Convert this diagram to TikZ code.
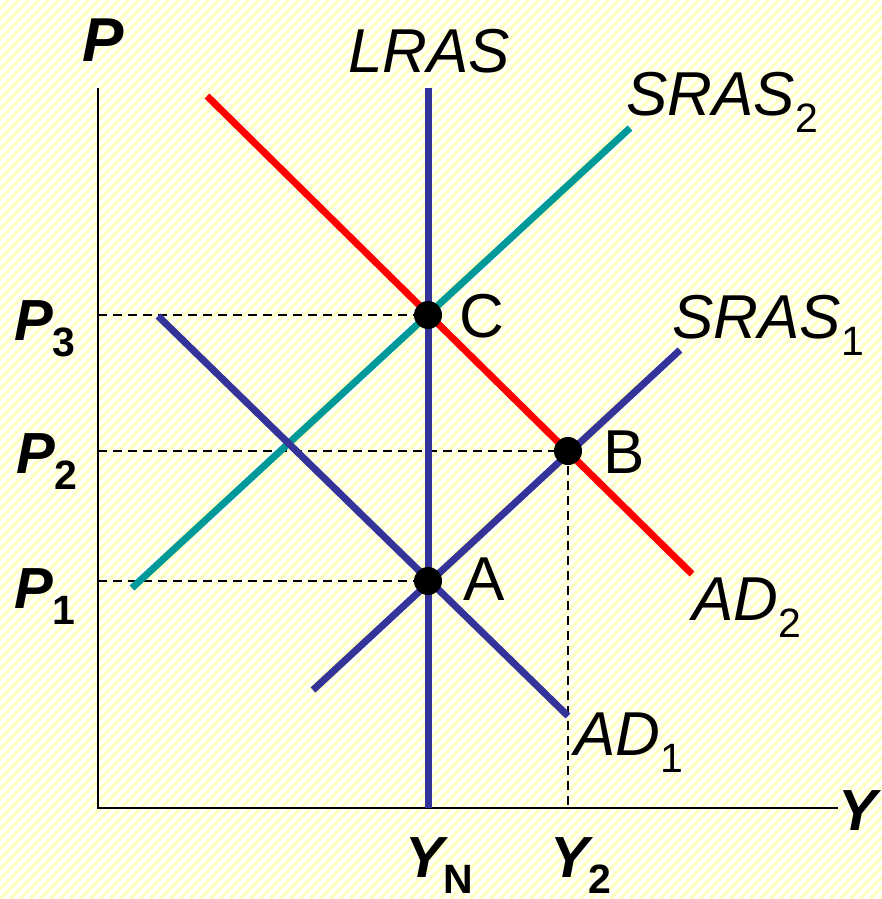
\documentclass[tikz,border=0pt]{standalone}
\usepackage{fontspec}
\setmainfont{Liberation Sans}
\newcommand{\lowsub}[1]{\raisebox{-0.29em}{\fontsize{41}{44}\selectfont #1}}
\definecolor{cblue}{HTML}{333399}
\definecolor{cteal}{HTML}{009999}
\definecolor{cred}{HTML}{FF0000}
\definecolor{stripe}{HTML}{FFFFC4}
\begin{document}
\begin{tikzpicture}[x=1pt,y=-1pt,
  curve/.style={line width=7pt},
  axisline/.style={line width=2pt,black},
  guide/.style={line width=1.4pt,black,dash pattern=on 9pt off 6pt},
  dot/.style={circle,fill=black,inner sep=0pt,minimum size=28pt},
  lab/.style={anchor=base west,inner sep=0pt,font=\fontsize{62}{66}\selectfont\itshape},
  plab/.style={anchor=base west,inner sep=0pt,font=\fontsize{58}{62}\selectfont\bfseries\itshape},
  ptlab/.style={anchor=base west,inner sep=0pt,font=\fontsize{62}{66}\selectfont}]
\useasboundingbox (0,0) rectangle (882,899);
\fill[white] (0,0) rectangle (882,899);
\begin{scope}
\clip (0,0) rectangle (882,899);
\foreach \i in {-910,-900,...,890} \draw[stripe,line width=3.5pt] (\i,899) -- ({\i+899},0);
\end{scope}
% coordinates
\coordinate (O) at (98,808);
\coordinate (Ytop) at (98,88);
\coordinate (Xend) at (838,808);
\coordinate (Ltop) at (428,88);
\coordinate (Lbot) at (428,808);
\coordinate (S2a) at (132,588);
\coordinate (S2b) at (630,128);
\coordinate (D2a) at (207,96);
\coordinate (D2b) at (692,574);
\coordinate (S1a) at (313,690);
\coordinate (S1b) at (680,350);
\coordinate (D1a) at (158,316);
\coordinate (D1b) at (568,716);
\coordinate (P3y) at (98,315);
\coordinate (P2y) at (98,451);
\coordinate (P1y) at (98,581);
\coordinate (Y2x) at (568,808);
% axes
\draw[axisline] (Ytop) -- (O) -- (Xend);
% guides
\draw[guide] (P3y) -- (428,315);
\draw[guide] (P2y) -- (568,451);
\draw[guide] (P1y) -- (428,581);
\draw[guide] (568,451) -- (Y2x);
% curves
\draw[curve,cteal] (S2a) -- (S2b);
\draw[curve,cred] (D2a) -- (D2b);
\draw[curve,cblue] (S1a) -- (S1b);
\draw[curve,cblue] (D1a) -- (D1b);
\draw[curve,cblue] (Ltop) -- (Lbot);
% points
\node[dot] (C) at (428,315) {};
\node[dot] (B) at (568,451) {};
\node[dot] (A) at (428,581) {};
% labels
\node[ptlab] (Cl) at (459,337) {C};
\node[ptlab] (Bl) at (603,473) {B};
\node[ptlab] (Al) at (463,600) {A};
\node[lab] (LRASl) at (348,73) {LRAS};
\node[lab] (SRAS2l) at (626,115) {SRAS\lowsub{\upshape 2}};
\node[lab] (SRAS1l) at (672,338) {SRAS\lowsub{\upshape 1}};
\node[lab] (AD2l) at (692,620) {AD\lowsub{\upshape 2}};
\node[lab] (AD1l) at (574,755) {AD\lowsub{\upshape 1}};
\node[plab,font=\fontsize{62}{66}\selectfont\bfseries\itshape] (Pl) at (82,62) {P};
\node[plab] (Yl) at (838,830) {Y};
\node[plab] (P3l) at (14,340) {P\lowsub{\upshape 3}};
\node[plab] (P2l) at (16,473) {P\lowsub{\upshape 2}};
\node[plab] (P1l) at (14,608) {P\lowsub{\upshape 1}};
\node[plab] (YNl) at (405,877) {Y\lowsub{\upshape N}};
\node[plab] (Y2l) at (550,877) {Y\lowsub{\upshape 2}};
\end{tikzpicture}
\end{document}
